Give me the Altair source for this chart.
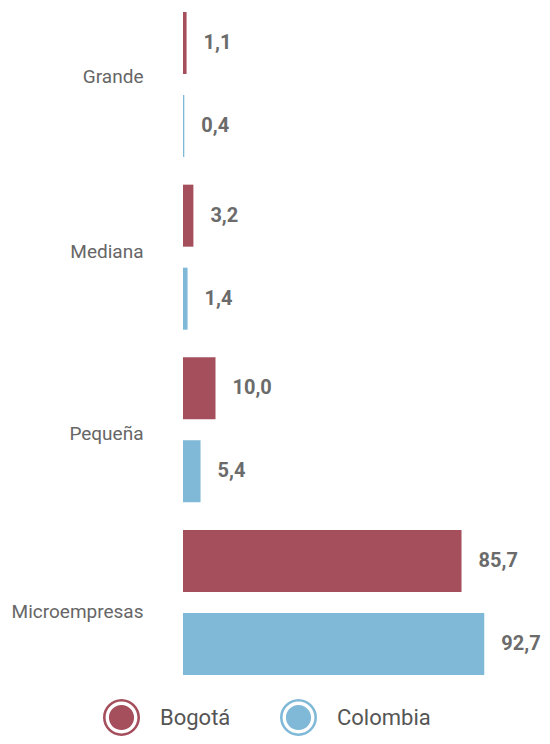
import altair as alt
import pandas as pd

categories = ["Grande", "Mediana", "Pequeña", "Microempresas"]
series = ["Bogotá", "Colombia"]
bogota = [1.1, 3.2, 10.0, 85.7]
colombia = [0.4, 1.4, 5.4, 92.7]
colors = ["#A54F5D", "#7FB9D7"]

rows = []
for c, b, co in zip(categories, bogota, colombia):
    rows.append({"categoria": c, "serie": series[0], "valor": b})
    rows.append({"categoria": c, "serie": series[1], "valor": co})
df = pd.DataFrame(rows)

ring_path = (
    "M1,0A1,1,0,1,1,-1,0A1,1,0,1,1,1,0Z"
    "M0.86,0A0.86,0.86,0,1,0,-0.86,0A0.86,0.86,0,1,0,0.86,0Z"
    "M0.68,0A0.68,0.68,0,1,1,-0.68,0A0.68,0.68,0,1,1,0.68,0Z"
)

y_enc = alt.Y(
    "categoria:N",
    sort=categories,
    scale=alt.Scale(paddingInner=0.16, paddingOuter=0),
    axis=alt.Axis(
        title=None, ticks=False, domain=False, grid=False,
        labelFont="Roboto", labelFontSize=19, labelColor="#666666",
        labelPadding=40, labelLimit=200,
        labelOffset=alt.ExprRef(
            "datum.value === 'Grande' ? -8 : datum.value === 'Mediana' ? -5 : "
            "datum.value === 'Pequeña' ? 4 : 10"
        ),
    ),
)
yoff = alt.YOffset("serie:N", sort=series, scale=alt.Scale(paddingInner=0.253, paddingOuter=0))
x_enc = alt.X("valor:Q", scale=alt.Scale(domain=[0, 100]), axis=None)

bars = alt.Chart(df).mark_bar().encode(
    x=x_enc,
    y=y_enc,
    yOffset=yoff,
    color=alt.Color(
        "serie:N",
        sort=series,
        scale=alt.Scale(domain=series, range=colors),
        legend=alt.Legend(
            title=None,
            orient="none",
            direction="horizontal",
            legendX=-80,
            legendY=687,
            symbolType=ring_path,
            symbolSize=1369,
            symbolStrokeWidth=0,
            symbolOpacity=1,
            labelFont="Roboto",
            labelFontSize=22,
            labelColor="#555555",
            labelOffset=20,
            columnPadding=49,
            padding=0,
        ),
    ),
)

labels = alt.Chart(df).transform_calculate(
    etiqueta="replace(format(datum.valor, '.1f'), '.', ',')"
).mark_text(
    align="left", baseline="middle", dx=17,
    font="Roboto", fontSize=20, fontWeight="bold", color="#6b6b6b",
).encode(
    x=x_enc,
    y=alt.Y("categoria:N", sort=categories),
    yOffset=yoff,
    text="etiqueta:N",
)

chart = alt.layer(bars, labels).properties(
    width=325,
    height=663,
    autosize=alt.AutoSizeParams(type="none"),
    padding={"left": 175, "top": 4, "right": 34, "bottom": 61},
).configure_view(stroke=None)

chart.save("out.html", embed_options={"renderer": "svg", "actions": False})
